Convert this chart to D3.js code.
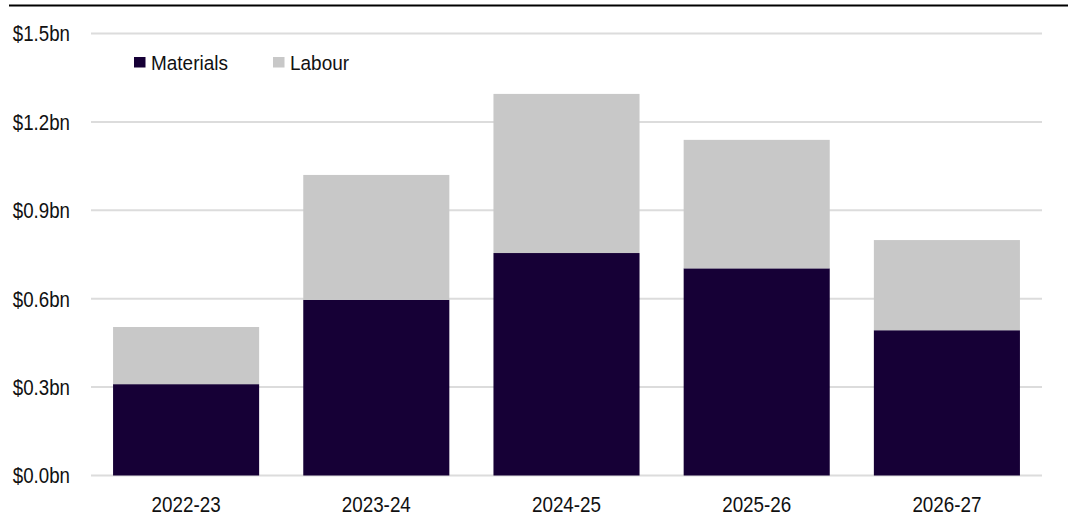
<!DOCTYPE html>
<html>
<head>
<meta charset="utf-8">
<script src="https://cdn.jsdelivr.net/npm/d3@7"></script>
<style>
  html, body { margin: 0; padding: 0; background: #fff; }
  svg text { font-family: "Liberation Sans", Arial, sans-serif; fill: #111; }
</style>
</head>
<body>
<svg id="chart" width="1070" height="521"></svg>
<script>
const categories = ["2022-23", "2023-24", "2024-25", "2025-26", "2026-27"];
const materials = [0.31, 0.596, 0.755, 0.703, 0.493];
const labour = [0.194, 0.424, 0.54, 0.436, 0.306];
const seriesNames = ["Materials", "Labour"];
const seriesColors = ["#160036", "#c8c8c8"];
const yTicks = [0, 0.3, 0.6, 0.9, 1.2, 1.5];

const svg = d3.select("#chart");
const margin = { left: 91, right: 1042, top: 33.5, bottom: 475.5 };

const x = d3.scaleBand().domain(categories).range([margin.left, margin.right])
  .paddingInner(0.232).paddingOuter(0.116);
const y = d3.scaleLinear().domain([0, 1.5]).range([margin.bottom, margin.top]);

// condense text horizontally (narrow-style font look)
function condense(sel, ratio) {
  sel.each(function () {
    const w = this.getComputedTextLength();
    d3.select(this).attr("textLength", w * ratio).attr("lengthAdjust", "spacingAndGlyphs");
  });
}

// top rule
svg.append("line").attr("x1", 9).attr("x2", 1068).attr("y1", 5.5).attr("y2", 5.5)
  .attr("stroke", "#000").attr("stroke-width", 2.2);

// gridlines
svg.append("g").selectAll("line").data(yTicks).join("line")
  .attr("x1", margin.left).attr("x2", margin.right)
  .attr("y1", d => y(d)).attr("y2", d => y(d))
  .attr("stroke", "#dcdcdc").attr("stroke-width", 2);

// y labels
svg.append("g").selectAll("text").data(yTicks).join("text")
  .attr("x", 70).attr("y", d => y(d)).attr("dy", "0.36em")
  .attr("text-anchor", "end").attr("font-size", 22)
  .text(d => "$" + d.toFixed(1) + "bn")
  .call(condense, 0.85);

// stacked bars
const rows = categories.map((c, i) => ({ cat: c, Materials: materials[i], Labour: labour[i] }));
const stack = d3.stack().keys(seriesNames)(rows);
svg.append("g").selectAll("g").data(stack).join("g")
  .attr("fill", (d, i) => seriesColors[i])
  .selectAll("rect").data(d => d).join("rect")
  .attr("x", d => x(d.data.cat))
  .attr("width", x.bandwidth())
  .attr("y", d => y(d[1]))
  .attr("height", d => y(d[0]) - y(d[1]));

// x labels
svg.append("g").selectAll("text").data(categories).join("text")
  .attr("x", d => x(d) + x.bandwidth() / 2).attr("y", 511.5)
  .attr("text-anchor", "middle").attr("font-size", 22)
  .text(d => d)
  .call(condense, 0.855);

// legend
const legendX = [134, 273];
const lg = svg.append("g").selectAll("g").data(seriesNames).join("g")
  .attr("transform", (d, i) => `translate(${legendX[i]},57)`);
lg.append("rect").attr("width", 11.5).attr("height", 10.5).attr("fill", (d, i) => seriesColors[i]);
lg.append("text").attr("x", 17).attr("y", 13.2).attr("font-size", 20.5).text(d => d)
  .call(condense, 0.925);
</script>
</body>
</html>
